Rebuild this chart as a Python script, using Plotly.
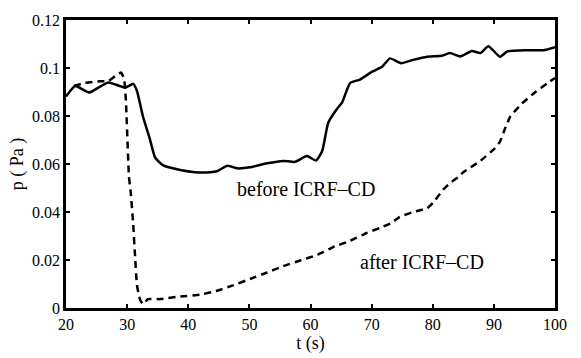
import plotly.graph_objects as go

t_before = [20, 21.5, 23.8, 26.9, 29.7, 31, 31.6, 32.6, 33.7, 34.6, 35.9, 38.7, 41.1, 43.6, 44.7,
            46.4, 48, 50.1, 52.9, 55.5, 57.5, 59.4, 60.9, 61.9, 62.9, 64.2, 65.2, 66.5, 68.1,
            70.1, 71.7, 73, 74.8, 76.8, 79.1, 81.5, 82.8, 84.5, 86.4, 87.8, 89.1, 91, 92.2,
            95.4, 98.1, 100]
p_before = [0.0881, 0.0925, 0.0898, 0.094, 0.0918, 0.0934, 0.0905, 0.0797, 0.0706, 0.0626,
            0.0594, 0.0575, 0.0566, 0.0566, 0.057, 0.0593, 0.0582, 0.0586, 0.0603, 0.0613,
            0.0609, 0.0633, 0.0615, 0.0653, 0.0772, 0.0825, 0.0858, 0.0938, 0.0952, 0.0985,
            0.1005, 0.104, 0.102, 0.1034, 0.1047, 0.1051, 0.1062, 0.1048, 0.1071, 0.1062,
            0.1091, 0.1047, 0.1069, 0.1074, 0.1074, 0.1087]

t_after = [21.3, 23.1, 25.6, 26.9, 28, 29, 29.5, 29.8, 30.3, 30.6, 31, 31.3, 31.6, 32.1, 32.6,
           33.4, 35.4, 38.7, 41.9, 44.7, 47.3, 50.1, 52.9, 55.5, 58.3, 61.1, 63.7, 66.5, 69.3,
           71.4, 73.3, 74.6, 76.8, 79.1, 80.1, 81.7, 82.8, 84.2, 85, 87.8, 90.2, 91, 91.8,
           92.7, 94.6, 96.7, 98.8, 100]
p_after = [0.0925, 0.0938, 0.0945, 0.0945, 0.0965, 0.0981, 0.0957, 0.0864, 0.0546, 0.048,
           0.0347, 0.0215, 0.0096, 0.0036, 0.0016, 0.0037, 0.0037, 0.0048, 0.0055, 0.0072,
           0.0094, 0.0121, 0.0148, 0.0174, 0.0198, 0.0221, 0.0254, 0.028, 0.0314, 0.0334,
           0.0355, 0.038, 0.04, 0.0416, 0.044, 0.0493, 0.052, 0.0546, 0.0566, 0.0613, 0.0666,
           0.0693, 0.0746, 0.0799, 0.0852, 0.0898, 0.0938, 0.0958]

x_ticks = [20, 30, 40, 50, 60, 70, 80, 90, 100]
y_ticks = [0, 0.02, 0.04, 0.06, 0.08, 0.1, 0.12]
y_tick_labels = ["0", "0.02", "0.04", "0.06", "0.08", "0.1", "0.12"]

FONT = "Liberation Serif"

fig = go.Figure()
fig.add_trace(go.Scatter(x=t_before, y=p_before, mode="lines", line=dict(color="black", width=2.5, shape="spline", smoothing=0.5)))
fig.add_trace(go.Scatter(x=t_after, y=p_after, mode="lines", line=dict(color="black", width=2.5, dash="7px,5px", shape="spline", smoothing=0.3)))

axis_common = dict(showline=True, linecolor="black", linewidth=2.5, mirror="ticks", ticks="inside",
                   ticklen=4, tickwidth=2, tickcolor="black", showgrid=False, zeroline=False,
                   tickfont=dict(family=FONT, size=16, color="black"))

fig.update_xaxes(range=[20, 100], tickvals=x_ticks, ticktext=[str(v) for v in x_ticks],
                 title=dict(text="t (s)", font=dict(family=FONT, size=18, color="black"), standoff=0),
                 **axis_common)
fig.update_yaxes(range=[0, 0.12], tickvals=y_ticks, ticktext=y_tick_labels,
                 title=dict(text="p ( Pa )", font=dict(family=FONT, size=18, color="black"), standoff=4),
                 **axis_common)

fig.add_annotation(x=59.3, y=0.0494, text="before ICRF\u2013CD", showarrow=False,
                   font=dict(family=FONT, size=20, color="black"))
fig.add_annotation(x=78.3, y=0.0191, text="after ICRF\u2013CD", showarrow=False,
                   font=dict(family=FONT, size=20, color="black"))

fig.update_layout(width=581, height=358, margin=dict(l=66, r=26, t=16, b=41),
                  paper_bgcolor="white", plot_bgcolor="white", showlegend=False)

fig.write_html("out.html")
